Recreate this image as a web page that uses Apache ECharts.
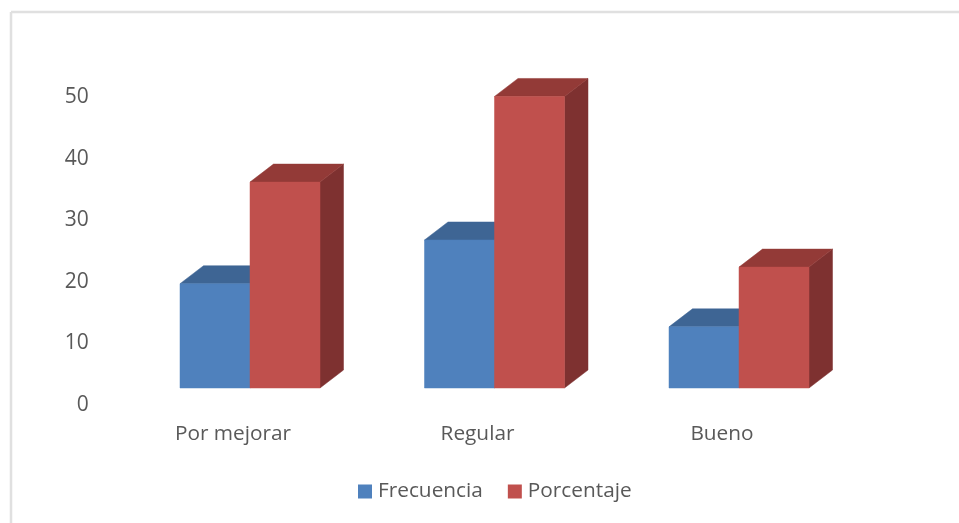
<!DOCTYPE html>
<html>
<head>
<meta charset="utf-8">
<style>html,body{margin:0;padding:0;background:#fff}#chart{width:959px;height:523px}</style>
<script src="https://cdn.jsdelivr.net/npm/echarts@6/dist/echarts.min.js"></script>
</head>
<body>
<div id="chart"></div>
<script>
const categories = ['Por mejorar', 'Regular', 'Bueno'];
const frecuencia = [19.2, 26.3, 12.2];
const porcentaje = [35.7, 49.6, 21.9];
const valueTicks = [0, 10, 20, 30, 40, 50];

// Box projection, in pixels
const DEPTH_X = 23.5;
const DEPTH_Y = 18;
const FLOOR_LIFT = 14;
const SHIFT_X = 17;
const BAR_SHARE = 70 / 244.5;

// Draws one extruded column: side and top faces behind the front face
function boxRenderer(seriesSlot, topColor, sideColor) {
  return function (params, api) {
    const top = api.coord([api.value(0), api.value(1)]);
    const base = api.coord([api.value(0), 0]);
    const w = api.size([1, 0])[0] * BAR_SHARE;
    const x0 = top[0] + SHIFT_X + (seriesSlot - 1) * w;
    const x1 = x0 + w;
    const yt = top[1];
    const yb = base[1] - FLOOR_LIFT;
    const poly = (points, fill) => ({
      type: 'polygon',
      shape: { points },
      style: { fill, stroke: fill, lineWidth: 0.5 }
    });
    return {
      type: 'group',
      children: [
        poly([[x1, yt], [x1 + DEPTH_X, yt - DEPTH_Y], [x1 + DEPTH_X, yb - DEPTH_Y], [x1, yb]], sideColor),
        poly([[x0, yt], [x0 + DEPTH_X, yt - DEPTH_Y], [x1 + DEPTH_X, yt - DEPTH_Y], [x1, yt]], topColor),
        poly([[x0, yt], [x1, yt], [x1, yb], [x0, yb]], api.visual('color'))
      ]
    };
  };
}

const textColor = '#595959';
const fontFamily = '"Open Sans", "Noto Sans", sans-serif';

const chart = echarts.init(document.getElementById('chart'), null, { renderer: 'canvas' });
chart.setOption({
  animation: false,
  backgroundColor: '#ffffff',
  grid: { left: 110.75, width: 733.5, top: 94, height: 308 },
  legend: {
    left: 353,
    top: 476,
    itemWidth: 14,
    itemHeight: 14,
    itemGap: 25,
    icon: 'rect',
    textStyle: { color: textColor, fontFamily, fontSize: 20.8, padding: [0, 0, 0, 1] },
    data: ['Frecuencia', 'Porcentaje']
  },
  xAxis: {
    type: 'category',
    data: categories,
    axisLine: { show: false },
    axisTick: { show: false },
    axisLabel: { color: textColor, fontFamily, fontSize: 20.8, margin: 22 }
  },
  yAxis: {
    type: 'value',
    min: valueTicks[0],
    max: valueTicks[valueTicks.length - 1],
    interval: 10,
    axisLine: { show: false },
    axisTick: { show: false },
    splitLine: { show: false },
    axisLabel: { color: textColor, fontFamily, fontSize: 21, margin: 22, verticalAlign: 'top', lineHeight: 6 }
  },
  series: [
    {
      name: 'Frecuencia',
      type: 'custom',
      renderItem: boxRenderer(0, '#3E6594', '#345479'),
      itemStyle: { color: '#4F81BD' },
      encode: { x: 0, y: 1 },
      clip: false,
      data: frecuencia.map((v, i) => [i, v])
    },
    {
      name: 'Porcentaje',
      type: 'custom',
      renderItem: boxRenderer(1, '#933A37', '#7E3130'),
      itemStyle: { color: '#C0504D' },
      encode: { x: 0, y: 1 },
      clip: false,
      data: porcentaje.map((v, i) => [i, v])
    }
  ],
  graphic: [
    { type: 'line', shape: { x1: 11, y1: 12, x2: 959, y2: 12 }, style: { stroke: '#e0e0e0', lineWidth: 2.5 } },
    { type: 'line', shape: { x1: 11, y1: 12, x2: 11, y2: 523 }, style: { stroke: '#e0e0e0', lineWidth: 2.5 } }
  ]
});
</script>
</body>
</html>
